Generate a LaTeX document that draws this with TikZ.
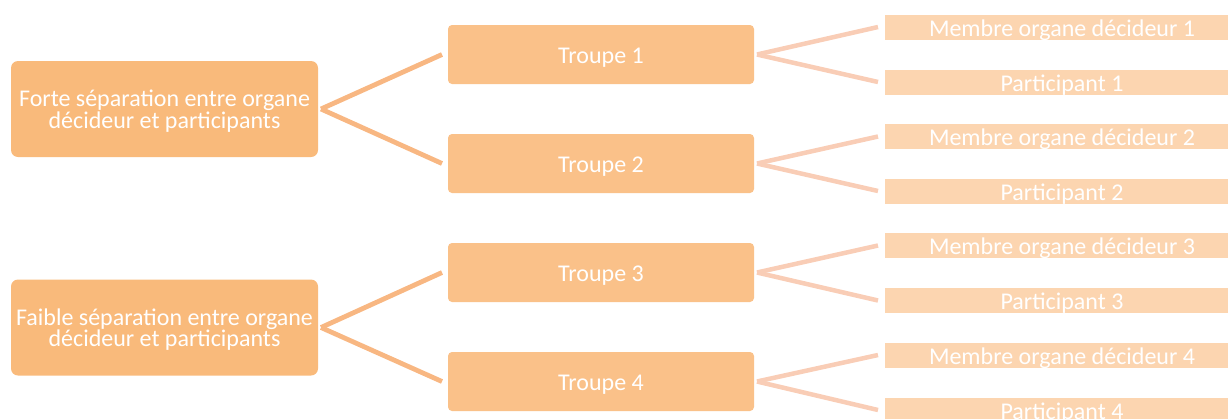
\documentclass[tikz,border=0pt]{standalone}
\usepackage{fontspec}
\setmainfont{Carlito}
\definecolor{lvl1}{RGB}{249,186,123}
\definecolor{lvl2}{RGB}{250,193,137}
\definecolor{lvl3}{RGB}{252,213,176}
\definecolor{con1}{RGB}{248,183,130}
\definecolor{con2}{RGB}{249,205,182}
\tikzset{
  rootbox/.style={fill=lvl1, draw=none, rounded corners=7pt, minimum width=307pt, minimum height=96pt,
    inner sep=0pt, outer sep=0pt, text=white, align=center, text height=38.6pt, text depth=0pt,
    font=\fontsize{24}{21.7}\selectfont},
  troupebox/.style={fill=lvl2, draw=none, rounded corners=4pt, minimum width=306pt, minimum height=59pt,
    inner sep=0pt, outer sep=0pt, text=white, text height=17pt, text depth=0pt, font=\fontsize{24}{24}\selectfont},
  leafbox/.style={fill=lvl3, draw=white, line width=0.6pt, minimum width=356pt, minimum height=26pt,
    inner sep=0pt, outer sep=0pt, text=white, text height=18pt, text depth=0pt, font=\fontsize{24}{24}\selectfont},
  con1line/.style={draw=con1, line width=4.8pt},
  con2line/.style={draw=con2, line width=4.5pt},
}
\begin{document}
\begin{tikzpicture}[x=1pt,y=-1pt]
\useasboundingbox (0,0) rectangle (1228,418);
\clip (0,0) rectangle (1228,418);
% roots
\node[rootbox] (r1) at (164.5,109) {Forte séparation entre organe\\décideur et participants};
\node[rootbox] (r2) at (164.5,327.5) {Faible séparation entre organe\\décideur et participants};
% troupes
\node[troupebox] (t1) at (601,54.5) {Troupe 1};
\node[troupebox] (t2) at (601,163.5) {Troupe 2};
\node[troupebox] (t3) at (601,272.5) {Troupe 3};
\node[troupebox] (t4) at (601,381.5) {Troupe 4};
% leaves
\node[leafbox] (m1) at (1062,27) {Membre organe décideur 1};
\node[leafbox] (p1) at (1062,82) {Participant 1};
\node[leafbox] (m2) at (1062,136.5) {Membre organe décideur 2};
\node[leafbox] (p2) at (1062,191) {Participant 2};
\node[leafbox] (m3) at (1062,245.5) {Membre organe décideur 3};
\node[leafbox] (p3) at (1062,300.5) {Participant 3};
\node[leafbox] (m4) at (1062,355) {Membre organe décideur 4};
\node[leafbox] (p4) at (1062,410) {Participant 4};
% connectors level 1
\draw[con1line] ([xshift=3pt]r1.east) -- ([xshift=-6pt]t1.west);
\draw[con1line] ([xshift=3pt]r1.east) -- ([xshift=-6pt]t2.west);
\draw[con1line] ([xshift=3pt]r2.east) -- ([xshift=-6pt]t3.west);
\draw[con1line] ([xshift=3pt]r2.east) -- ([xshift=-6pt]t4.west);
% connectors level 2
\draw[con2line] ([xshift=3pt]t1.east) -- ([xshift=-6pt]m1.west);
\draw[con2line] ([xshift=3pt]t1.east) -- ([xshift=-6pt]p1.west);
\draw[con2line] ([xshift=3pt]t2.east) -- ([xshift=-6pt]m2.west);
\draw[con2line] ([xshift=3pt]t2.east) -- ([xshift=-6pt]p2.west);
\draw[con2line] ([xshift=3pt]t3.east) -- ([xshift=-6pt]m3.west);
\draw[con2line] ([xshift=3pt]t3.east) -- ([xshift=-6pt]p3.west);
\draw[con2line] ([xshift=3pt]t4.east) -- ([xshift=-6pt]m4.west);
\draw[con2line] ([xshift=3pt]t4.east) -- ([xshift=-6pt]p4.west);
\end{tikzpicture}
\end{document}
